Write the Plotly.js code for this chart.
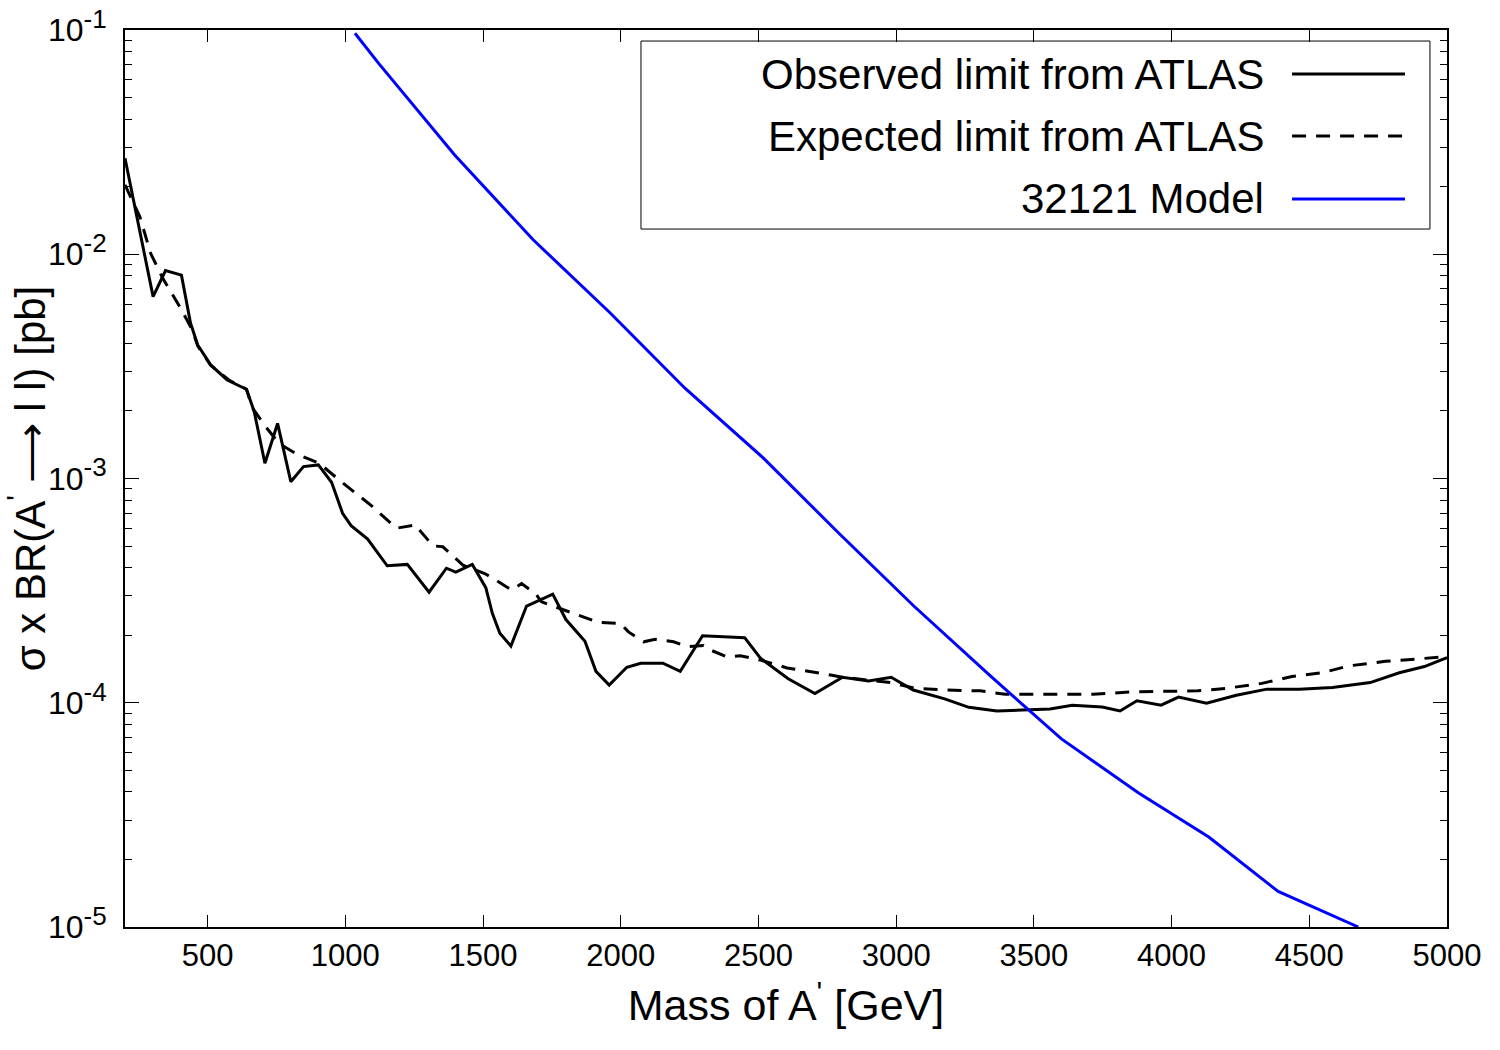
<!DOCTYPE html>
<html>
<head>
<meta charset="utf-8">
<script src="https://cdn.plot.ly/plotly-3.0.1.min.js"></script>
<style>
  body { margin: 0; background: #fff; }
  #grafico { width: 1500px; height: 1050px; }
</style>
</head>
<body>
<div id="grafico"></div>
<script>
// limite observado (ATLAS)
const massaObs = [200, 302, 347, 405, 438, 464, 511, 571, 641, 669, 708, 754, 802, 848, 902, 950, 990, 1021, 1081, 1152,
  1225, 1304, 1367, 1401, 1461, 1510, 1534, 1561, 1601, 1658, 1706, 1753, 1801, 1870, 1910, 1958, 2022, 2073, 2153, 2216,
  2297, 2450, 2507, 2608, 2705, 2805, 2900, 2982, 3062, 3176, 3264, 3366, 3559, 3639, 3748, 3813, 3874, 3962, 4025, 4127,
  4235, 4346, 4463, 4584, 4721, 4827, 4918, 5000];
const limiteObs = [0.0268, 0.00647, 0.00845, 0.00807, 0.00492, 0.00394, 0.00321, 0.00275, 0.0025, 0.00199, 0.00117, 0.00176,
  0.000968, 0.00113, 0.00115, 0.000962, 0.0007, 0.000616, 0.000537, 0.000408,
  0.000414, 0.000311, 0.000398, 0.000382, 0.000414, 0.000326, 0.00025, 0.000204, 0.000179, 0.00027,
  0.000287, 0.000305, 0.000235, 0.000188, 0.000138, 0.00012, 0.000144, 0.00015, 0.00015, 0.000138,
  0.000199, 0.000195, 0.000158, 0.000128, 0.00011, 0.00013, 0.000125, 0.00013, 0.000114, 0.000104,
  0.0000954, 0.0000919, 0.0000937, 0.0000975, 0.0000958, 0.0000919, 0.000102, 0.0000975, 0.000106, 0.0000995,
  0.000108, 0.000115, 0.000115, 0.000117, 0.000123, 0.000136, 0.000145, 0.000159];

// limite esperado (ATLAS)
const massaEsp = [200, 254, 293, 335, 402, 444, 464, 511, 577, 641, 663, 711, 760, 821, 905, 978, 1099, 1185, 1257, 1269,
  1318, 1354, 1427, 1506, 1536, 1603, 1640, 1692, 1712, 1791, 1919, 1999, 2028, 2083, 2125, 2192, 2241, 2301, 2325, 2386,
  2434, 2507, 2604, 2762, 2805, 2979, 3070, 3176, 3305, 3396, 3502, 3715, 3866, 4095, 4200, 4328, 4437, 4546, 4643, 4777,
  4900, 5000];
const limiteEsp = [0.0204, 0.0147, 0.0101, 0.0079, 0.00574, 0.0046, 0.0039, 0.0032, 0.00275, 0.0025, 0.00206, 0.0017,
  0.00143, 0.00129, 0.00117, 0.000984, 0.000749, 0.0006, 0.000621, 0.00059,
  0.000501, 0.000496, 0.000411, 0.000377, 0.000359, 0.000318, 0.00034, 0.000305, 0.000282, 0.00026,
  0.000228, 0.000226, 0.000207, 0.000187, 0.000192, 0.000187, 0.000178, 0.00018, 0.000172, 0.00016,
  0.000162, 0.000155, 0.000143, 0.000133, 0.00013, 0.000123, 0.000116, 0.000114, 0.000113, 0.000109,
  0.000109, 0.000109, 0.000112, 0.000113, 0.000116, 0.000122, 0.000131, 0.000136, 0.000146, 0.000153,
  0.000157, 0.000161];

// modelo 32121
const massaModelo = [1035, 1121, 1397, 1682, 1960, 2234, 2519, 2792, 3064, 3338, 3600, 3879, 4135, 4387, 4678];
const secaoModelo = [0.0967, 0.071, 0.0277, 0.0116, 0.0055, 0.00252, 0.00123, 0.00057, 0.00027, 0.000133, 0.000069,
  0.0000397, 0.0000252, 0.0000144, 0.00001];

// rotulos dos eixos
const ticksX = [500, 1000, 1500, 2000, 2500, 3000, 3500, 4000, 4500, 5000];
const ticksY = [1e-5, 1e-4, 1e-3, 1e-2, 1e-1];
const expoentesY = ["-5", "-4", "-3", "-2", "-1"];

// legenda
const nomesLegenda = ["Observed limit from ATLAS", "Expected limit from ATLAS", "32121 Model"];

const fonte = "Liberation Sans, Arial, Helvetica, sans-serif";
const tracejado = "14px,10px";

// expoente quase do tamanho do numero, como no original
const textosY = expoentesY.map(e => "10<sup><span style='font-size:26px'>" + e + "</span></sup>");

const dados = [
  {x: massaObs, y: limiteObs, type: "scatter", mode: "lines", name: nomesLegenda[0],
   line: {color: "#000000", width: 3}},
  {x: massaEsp, y: limiteEsp, type: "scatter", mode: "lines", name: nomesLegenda[1],
   line: {color: "#000000", width: 3, dash: tracejado}},
  {x: massaModelo, y: secaoModelo, type: "scatter", mode: "lines", name: nomesLegenda[2],
   line: {color: "#0000ff", width: 3}}
];

// legenda desenhada a mao (texto a esquerda, amostra a direita)
const linhasLeg = [0.9509, 0.8818, 0.8116];
const estilosLeg = [
  {color: "#000000", width: 3},
  {color: "#000000", width: 3, dash: tracejado},
  {color: "#0000ff", width: 3}
];
const formas = [{type: "rect", xref: "paper", yref: "paper", x0: 0.3903, x1: 0.9871, y0: 0.7781, y1: 0.9877,
  line: {color: "#000000", width: 1}, fillcolor: "rgba(0,0,0,0)"}];
const anotacoes = [];
for (let i = 0; i < nomesLegenda.length; i++) {
  formas.push({type: "line", xref: "paper", yref: "paper", x0: 0.8828, x1: 0.9682, y0: linhasLeg[i], y1: linhasLeg[i],
    line: estilosLeg[i]});
  anotacoes.push({xref: "paper", yref: "paper", x: 0.8631, y: linhasLeg[i], xanchor: "right", yanchor: "middle",
    text: nomesLegenda[i], showarrow: false, font: {family: fonte, size: 42, color: "#000000"}});
}

const layout = {
  width: 1500,
  height: 1050,
  margin: {l: 125, r: 53, t: 30, b: 123},
  paper_bgcolor: "#ffffff",
  plot_bgcolor: "#ffffff",
  showlegend: false,
  font: {family: fonte, color: "#000000"},
  xaxis: {
    range: [200, 5000],
    tickmode: "array",
    tickvals: ticksX,
    ticks: "inside",
    ticklen: 12,
    tickwidth: 1,
    tickcolor: "#000000",
    showgrid: false,
    zeroline: false,
    showline: true,
    linecolor: "#000000",
    linewidth: 2,
    mirror: "ticks",
    tickfont: {size: 31},
    title: {text: "Mass of A<sup>'</sup> [GeV]", font: {size: 43}, standoff: 18}
  },
  yaxis: {
    type: "log",
    range: [-5, -1],
    tickmode: "array",
    tickvals: ticksY,
    ticktext: textosY,
    ticks: "inside",
    ticklen: 14,
    tickwidth: 1,
    tickcolor: "#000000",
    ticklabelstandoff: 10,
    minor: {ticks: "inside", ticklen: 7, dtick: "D1", tickcolor: "#000000", showgrid: false},
    showgrid: false,
    zeroline: false,
    showline: true,
    linecolor: "#000000",
    linewidth: 2,
    mirror: "ticks",
    tickfont: {size: 32},
    title: {text: "σ x BR(A<sup>'</sup> ⟶ l l) [pb]", font: {size: 42}, standoff: 2}
  },
  shapes: formas,
  annotations: anotacoes
};

Plotly.newPlot("grafico", dados, layout, {staticPlot: true});
</script>
</body>
</html>
